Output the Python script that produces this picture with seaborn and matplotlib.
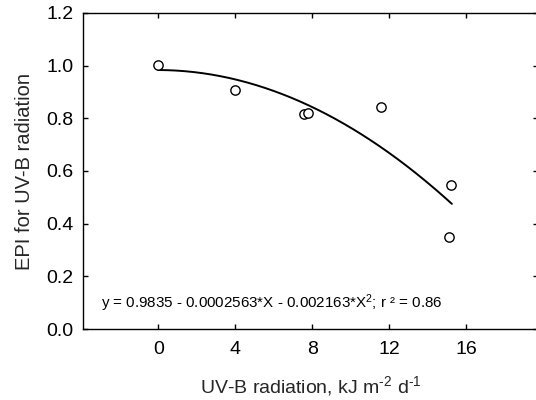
import numpy as np
import pandas as pd
import matplotlib
matplotlib.use("Agg")
import matplotlib.pyplot as plt
import seaborn as sns

# Data
uvb = [0.0, 4.0, 7.6, 7.8, 11.6, 15.2, 15.1]
epi = [1.003, 0.907, 0.817, 0.822, 0.843, 0.545, 0.348]

# Fitted quadratic printed on the chart
coef = [0.9835, -0.0002563, -0.002163]
fit_range = [0.0, 15.27]

x_ticks = [0, 4, 8, 12, 16]
y_ticks = [0.0, 0.2, 0.4, 0.6, 0.8, 1.0, 1.2]

sns.set_theme(style="ticks")
plt.rcParams["font.family"] = ["Liberation Sans", "DejaVu Sans"]
plt.rcParams["mathtext.fontset"] = "custom"
plt.rcParams["mathtext.rm"] = "Liberation Sans"
plt.rcParams["mathtext.it"] = "Liberation Sans"
plt.rcParams["axes.unicode_minus"] = False

fig = plt.figure(figsize=(5.36, 4.0), dpi=100)
fig.patch.set_facecolor("white")
W, H = 536, 400
left, right, top, bottom = 83.3, 538.0, 13.0, 329.0
ax = fig.add_axes([left / W, (H - bottom) / H, (right - left) / W, (bottom - top) / H])

df = pd.DataFrame({"x": uvb, "y": epi})
xf = np.linspace(fit_range[0], fit_range[1], 200)
fit = pd.DataFrame({"x": xf, "y": coef[0] + coef[1] * xf + coef[2] * xf ** 2})

sns.lineplot(data=fit, x="x", y="y", ax=ax, color="black", linewidth=1.4)
sns.scatterplot(data=df, x="x", y="y", ax=ax, s=45, facecolor="white",
                edgecolor="black", linewidth=1.0, zorder=3)

ax.set_xlim(-3.9, 19.75)
ax.set_ylim(0, 1.2)
ax.set_xticks(x_ticks)
ax.set_yticks(y_ticks)
ax.set_xticklabels([str(t) for t in x_ticks])
ax.set_yticklabels([f"{t:.1f}" for t in y_ticks])
ax.tick_params(direction="in", length=3.5, width=1.0, top=True, right=True,
               labelsize=14, colors="black")
ax.tick_params(axis="x", pad=9)
ax.tick_params(axis="y", pad=7)
for sp in ax.spines.values():
    sp.set_linewidth(1.0)
    sp.set_color("black")

ax.set_xlabel(r"UV-B radiation, kJ m$^{\text{-}2}$ d$^{\text{-}1}$", fontsize=14, labelpad=11)
ax.set_ylabel("EPI for UV-B radiation", fontsize=14.5, labelpad=9)

ax.text(-3.0, 0.08, r"y = 0.9835 - 0.0002563*X - 0.002163*X$^2$; r ² = 0.86",
        fontsize=10.9, va="baseline", ha="left", color="black")

fig.savefig("out.png", dpi=100, facecolor="white")
